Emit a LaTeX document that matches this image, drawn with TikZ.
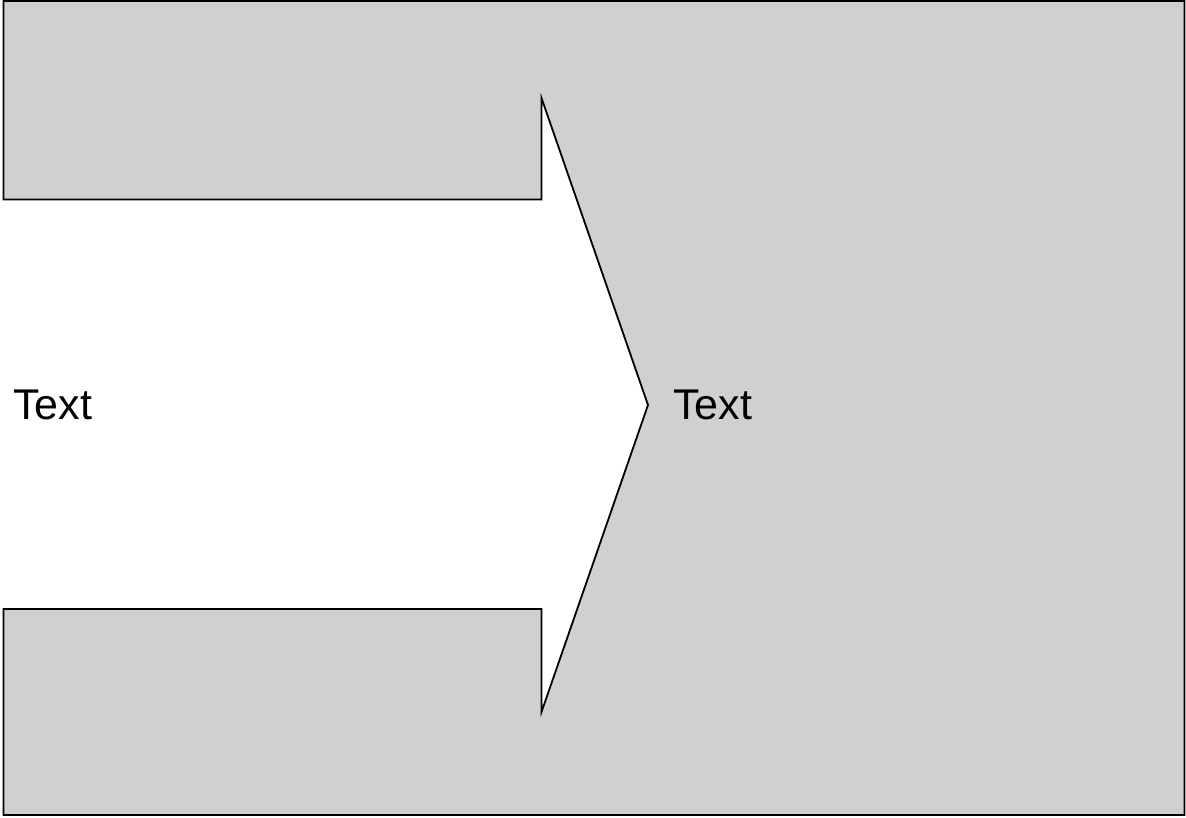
\documentclass[tikz,border=0pt]{standalone}
\usepackage{fontspec}
\setmainfont{Liberation Sans}
\definecolor{shapegray}{HTML}{D0D0D0}
\tikzset{
  outline/.style={draw=black, fill=shapegray, line width=1.8pt, line join=miter},
  label/.style={anchor=base west, inner sep=0pt, font=\fontsize{43pt}{50pt}\selectfont}
}
\begin{document}
\begin{tikzpicture}[x=1pt,y=-1pt]
\useasboundingbox (0,0) rectangle (1186,817);
\draw[outline] (3.5,199.5) -- (3.5,1) -- (1184.5,1) -- (1184.5,815) -- (3.5,815) -- (3.5,609)
  -- (541.5,609) -- (541.5,712) -- (648,405) -- (541.5,98) -- (541.5,199.5) -- cycle;
\node[label] (lefttext) at (13,419.5) {Text};
\node[label] (righttext) at (673,419.5) {Text};
\end{tikzpicture}
\end{document}
